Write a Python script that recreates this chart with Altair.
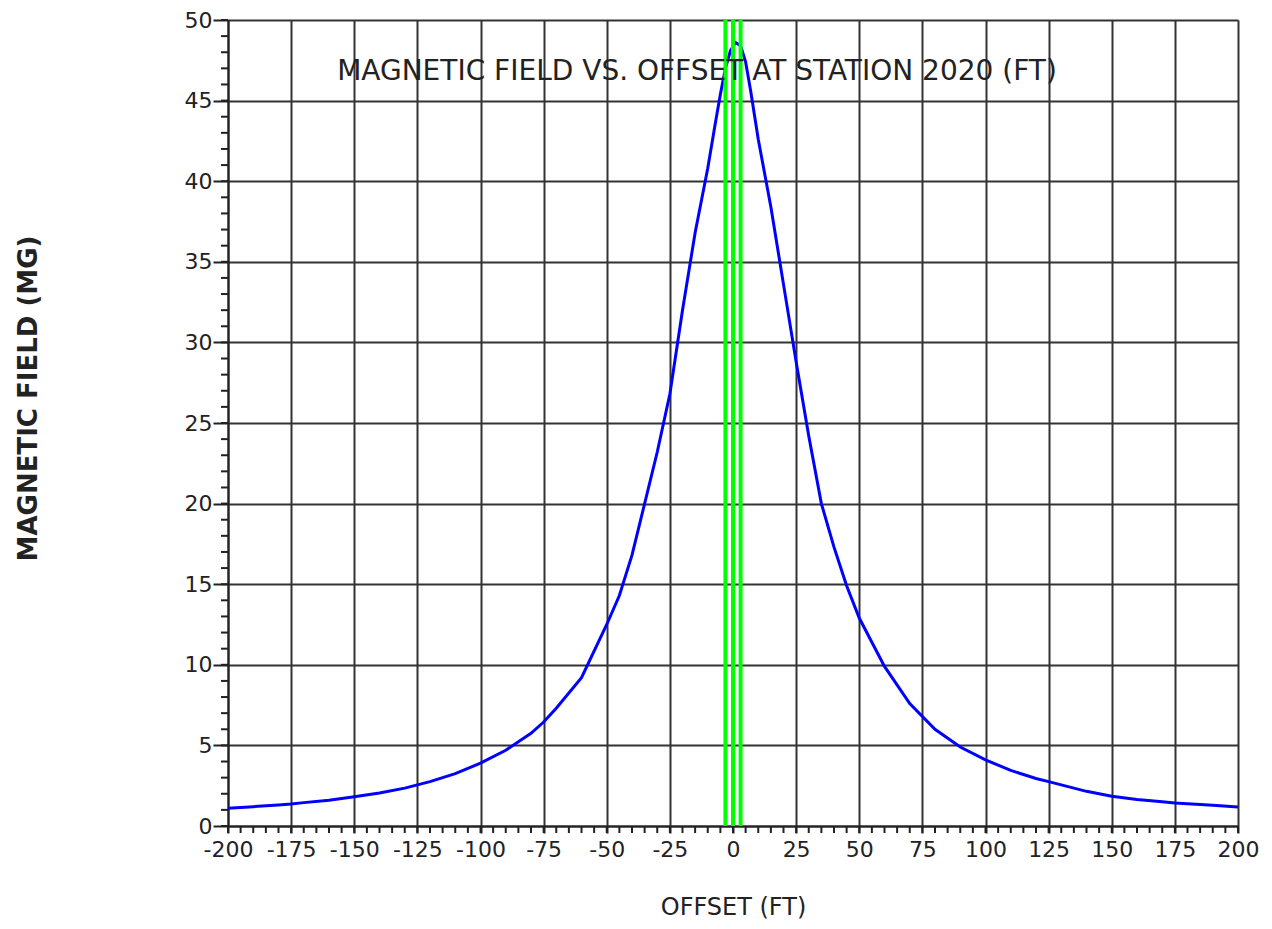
import altair as alt
import pandas as pd

# ---- data ----
offset_ft = [-200, -190, -180, -175, -170, -160, -150, -140, -130, -120, -110, -100,
             -90, -80, -75, -70, -60, -50, -45, -40, -35, -30, -25, -20, -15, -10, -7, -5,
             -3, -1, 1, 3, 5, 7, 10, 15, 20, 25, 30, 35, 40, 45, 50, 60, 70, 80, 90, 100,
             110, 120, 125, 130, 140, 150, 160, 170, 175, 180, 190, 200]
field_mg = [1.1, 1.2, 1.3, 1.36, 1.45, 1.6, 1.82, 2.05, 2.35, 2.75, 3.25, 3.9,
            4.7, 5.75, 6.45, 7.3, 9.2, 12.5, 14.3, 16.8, 20.0, 23.2, 26.8, 32.0, 36.8, 40.8, 43.6, 45.4,
            47.0, 48.1, 48.6, 48.4, 47.4, 45.6, 42.6, 38.4, 33.6, 28.8, 24.2, 20.0, 17.3, 14.9, 12.9,
            9.9, 7.6, 6.0, 4.9, 4.1,
            3.45, 2.95, 2.75, 2.55, 2.15, 1.85, 1.65, 1.5, 1.43, 1.38, 1.28, 1.18]
conductor_ft = [-3, 0, 3]

x_major = list(range(-200, 201, 25))
x_minor = list(range(-200, 201, 5))
y_major = list(range(0, 51, 5))
y_minor = list(range(0, 51, 1))

chart_title = "MAGNETIC FIELD VS. OFFSET AT STATION 2020 (FT)"
x_title = "OFFSET (FT)"
y_title = "MAGNETIC FIELD (MG)"

W, H = 1010, 806
FONT = "DejaVu Sans"
INK = "#222222"
GRID = "#333333"

xs = alt.Scale(domain=[-200, 200], nice=False, zero=False)
ys = alt.Scale(domain=[0, 50], nice=False, zero=False)

x_axis = alt.Axis(
    values=x_major, labelExpr="'' + datum.value",
    grid=True, gridColor=GRID, gridWidth=2, gridOpacity=1,
    domainColor=INK, domainWidth=2, tickColor=INK, tickWidth=2, tickSize=7,
    labelFont=FONT, labelFontSize=22, labelColor=INK, labelPadding=6,
    labelOverlap=False, labelFlush=False,
    title=x_title, titleFont=FONT, titleFontSize=24, titleFontWeight="normal",
    titleColor=INK, titleY=81, titleBaseline="middle",
)
y_axis = alt.Axis(
    values=y_major, labelExpr="'' + datum.value",
    grid=True, gridColor=GRID, gridWidth=2, gridOpacity=1,
    domainColor=INK, domainWidth=2, tickColor=INK, tickWidth=2, tickSize=15,
    labelFont=FONT, labelFontSize=22, labelColor=INK, labelPadding=1,
    labelOverlap=False, labelFlush=False,
    title=y_title, titleFont=FONT, titleFontSize=26, titleFontWeight="bold",
    titleColor=INK, titleAngle=270, titleX=-200, titleY=378,
    titleAlign="center", titleBaseline="middle",
)

X = alt.X("offset:Q", scale=xs, axis=x_axis)
Y = alt.Y("field:Q", scale=ys, axis=y_axis)

df = pd.DataFrame({"offset": offset_ft, "field": field_mg})

curve = alt.Chart(df).mark_line(color="#0000FF", strokeWidth=3).encode(x=X, y=Y)

green = alt.Chart(pd.DataFrame({"offset": conductor_ft})).mark_rule(
    color="#00FF00", strokeWidth=4
).encode(x=X)

x_minor_ticks = alt.Chart(pd.DataFrame({"offset": x_minor})).mark_rule(
    color=INK, strokeWidth=2
).encode(x=X, y=alt.value(H), y2=alt.value(H + 7))

y_minor_ticks = alt.Chart(pd.DataFrame({"field": y_minor})).mark_rule(
    color=INK, strokeWidth=2
).encode(y=Y, x=alt.value(-7), x2=alt.value(0))

title_text = alt.Chart(pd.DataFrame({"t": [chart_title]})).mark_text(
    font=FONT, fontSize=28, color=INK, align="center", baseline="middle"
).encode(x=alt.value(469), y=alt.value(52), text="t:N")

chart = alt.layer(curve, green, title_text, x_minor_ticks, y_minor_ticks).properties(
    width=W, height=H,
    autosize=alt.AutoSizeParams(type="none"),
    padding={"left": 220, "top": 12, "right": 26, "bottom": 95},
).configure_view(stroke=None).configure(background="white")

chart.save("out.html", embed_options={"renderer": "svg", "actions": False})
